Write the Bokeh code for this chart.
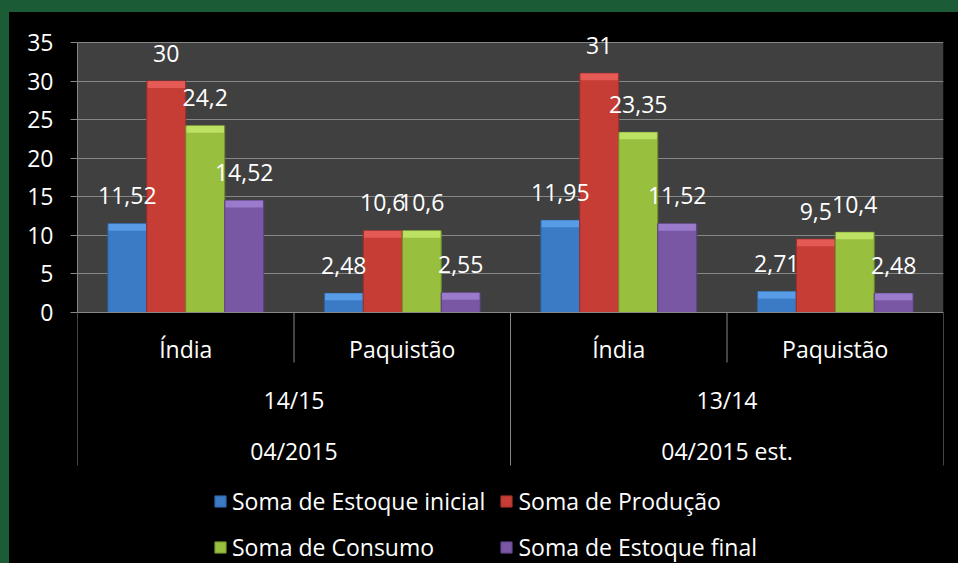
from bokeh.plotting import figure
from bokeh.layouts import column
from bokeh.models import (ColumnDataSource, FactorRange, Range1d, FixedTicker, BoxAnnotation,
                          Span, Legend, LegendItem)
from bokeh.transform import dodge
from bokeh.embed import file_html
from bokeh.resources import INLINE
from bokeh.core.properties import value

# ---------------- data ----------------
datas = ["04/2015", "04/2015", "04/2015 est.", "04/2015 est."]
safras = ["14/15", "14/15", "13/14", "13/14"]
paises = ["Índia", "Paquistão", "Índia", "Paquistão"]

series_names = ["Soma de Estoque inicial", "Soma de Produção",
                "Soma de Consumo", "Soma de Estoque final"]
estoque_inicial = [11.52, 2.48, 11.95, 2.71]
producao = [30, 10.6, 31, 9.5]
consumo = [24.2, 10.6, 23.35, 10.4]
estoque_final = [14.52, 2.55, 11.52, 2.48]
y_ticks = [0, 5, 10, 15, 20, 25, 30, 35]

series_values = [estoque_inicial, producao, consumo, estoque_final]

# ---------------- style ----------------
FONT = "Open Sans"
colors = ["#3b7bc6", "#c63d36", "#99bf3e", "#7a57a5"]
caps = ["#60a4ee", "#ec625c", "#c5ea6c", "#a383d5"]
edges = ["#2c5f9c", "#9a2e29", "#718f2c", "#5b4080"]
GRAY = "#878787"
GREEN = "#1b5c37"

PAGE_W, PAGE_H = 958, 563
FIG_LEFT, FIG_TOP = 9, 12          # green frame around the chart
W, H = PAGE_W - FIG_LEFT, PAGE_H - FIG_TOP
FRAME_L, FRAME_R, FRAME_T = 77, 943, 20   # page pixels
ZERO_Y, TOP_Y = 312, 42                   # page pixels of 0 and 35
PX = (ZERO_Y - TOP_Y) / 35
y_end = 35 + (TOP_Y - FRAME_T) / PX
y_start = -(PAGE_H - ZERO_Y) / PX

factors = list(zip(datas, safras, paises))
x_range = FactorRange(factors=factors, factor_padding=0, subgroup_padding=0,
                      group_padding=0, range_padding=0)

p = figure(width=W, height=H, x_range=x_range, y_range=Range1d(y_start, y_end),
           x_axis_location=None, output_backend="svg", toolbar_location=None,
           min_border_left=FRAME_L - FIG_LEFT, min_border_right=PAGE_W - FRAME_R,
           min_border_top=FRAME_T - FIG_TOP, min_border_bottom=0,
           background_fill_color="black", border_fill_color=None)
p.outline_line_color = None
p.margin = (FIG_TOP, 0, 0, FIG_LEFT)
p.styles = {"background-color": "black"}

# plot area background (0..35)
p.add_layout(BoxAnnotation(bottom=0, top=35, fill_color="#404040", fill_alpha=1,
                           line_color=None, line_alpha=0, level="image"))

# y axis
ax = p.yaxis[0]
ax.bounds = (0, 35)
ax.ticker = FixedTicker(ticks=y_ticks)
ax.axis_line_color = GRAY
ax.major_tick_line_color = GRAY
ax.major_tick_out = 7
ax.major_tick_in = 0
ax.minor_tick_line_color = None
ax.major_label_text_color = "white"
ax.major_label_text_font = FONT
ax.major_label_text_font_size = "23px"
ax.major_label_standoff = 17

p.ygrid.ticker = FixedTicker(ticks=y_ticks)
p.ygrid.grid_line_color = GRAY
p.xgrid.grid_line_color = None
p.xgrid.visible = False

p.add_layout(Span(location=0, dimension="width", line_color=GRAY, line_width=1))

# bars
BAR_W = 0.18
offsets = [-0.27, -0.09, 0.09, 0.27]
CAP = 7 / PX
items = []
label_sources = []
for vals, name, col, cap, edge, off in zip(series_values, series_names, colors, caps, edges, offsets):
    src = ColumnDataSource(dict(
        x=factors, top=vals,
        cap_bottom=[v - CAP for v in vals],
        label=[("%g" % v).replace(".", ",") for v in vals],
    ))
    xd = dodge("x", off, range=p.x_range)
    r = p.vbar(x=xd, top="top", bottom=0, width=BAR_W, source=src,
               fill_color=col, line_color=edge, line_width=1)
    p.vbar(x=xd, top="top", bottom="cap_bottom", width=BAR_W * 0.96, source=src,
           fill_color=cap, fill_alpha=0.8, line_color=None)
    items.append(LegendItem(label=name, renderers=[r]))
    label_sources.append((src, xd))

# value labels drawn on top of every bar
for src, xd in label_sources:
    p.text(x=xd, y="top", text="label", source=src, text_align="center",
           text_baseline="middle", y_offset=-28, text_color="white",
           text_font=value(FONT), text_font_size="23px")

# category labels (three levels)
ROW1, ROW2, ROW3 = 36, 87, 138
p.text(x=factors, y=[-ROW1 / PX] * len(factors), text=paises, text_align="center",
       text_baseline="middle", text_color="white", text_font=value(FONT),
       text_font_size="23px")
top_groups = list(dict.fromkeys(datas))
top_safras = list(dict.fromkeys(safras))
p.text(x=top_groups, y=[-ROW2 / PX] * len(top_groups), text=top_safras,
       text_align="center", text_baseline="middle", text_color="white",
       text_font=value(FONT), text_font_size="23px")
p.text(x=top_groups, y=[-ROW3 / PX] * len(top_groups), text=top_groups,
       text_align="center", text_baseline="middle", text_color="white",
       text_font=value(FONT), text_font_size="23px")

# separators
SHORT, LONG = 50, 153
sx, sy1 = [], []
for i, f in enumerate(factors):
    sx.append(f + (-0.5,))
    sy1.append(-(LONG if i == 0 or datas[i] != datas[i - 1] else SHORT) / PX)
sx.append(factors[-1] + (0.5,))
sy1.append(-LONG / PX)
p.segment(x0=sx, x1=sx, y0=[0] * len(sx), y1=sy1, line_color=GRAY, line_width=1)

legend = Legend(items=items, orientation="horizontal", ncols=2, location=(136, 0),
                background_fill_alpha=0, border_line_color=None,
                label_text_color="white", label_text_font=FONT,
                label_text_font_size="23px", glyph_width=14, glyph_height=14,
                label_standoff=5, spacing=14, padding=0, margin=0)
p.add_layout(legend)

page = column(p, styles={"background-color": GREEN})

open("out.html", "w").write(file_html(page, INLINE))
